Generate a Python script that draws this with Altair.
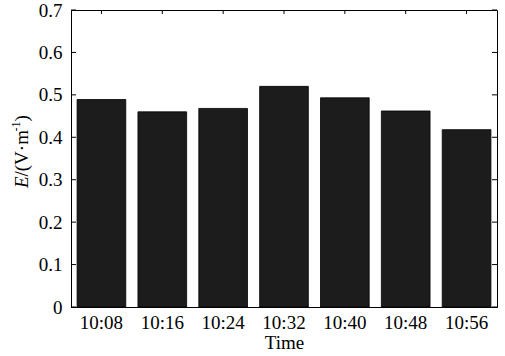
import altair as alt
import pandas as pd

times = ["10:08", "10:16", "10:24", "10:32", "10:40", "10:48", "10:56"]
values = [0.489, 0.460, 0.468, 0.520, 0.493, 0.462, 0.418]
y_ticks = [0, 0.1, 0.2, 0.3, 0.4, 0.5, 0.6, 0.7]

W, H = 426, 297
FONT = "Liberation Serif"
FS = 19
TL = 5

df = pd.DataFrame({"time": times, "E": values})
tick_df = pd.DataFrame({"v": y_ticks})
cat_df = pd.DataFrame({"time": times})

xscale = alt.Scale(domain=times, paddingInner=0.2, paddingOuter=0.1)
yscale = alt.Scale(domain=[0, 0.7], nice=False, zero=True)

bars = alt.Chart(df).mark_bar(color="#1c1c1c", stroke="#000000", strokeWidth=0.8).encode(
    x=alt.X("time:N", scale=xscale, sort=times,
            axis=alt.Axis(title="Time", labelAngle=0, labelPadding=6, titlePadding=1)),
    y=alt.Y("E:Q", scale=yscale,
            axis=alt.Axis(title=None, values=y_ticks, labelPadding=9, grid=False,
                          format="~g")),
)

left_ticks = alt.Chart(tick_df).mark_rule(color="black", strokeWidth=1).encode(
    y=alt.Y("v:Q", scale=yscale), x=alt.value(0), x2=alt.value(TL))
right_ticks = alt.Chart(tick_df).mark_rule(color="black", strokeWidth=1).encode(
    y=alt.Y("v:Q", scale=yscale), x=alt.value(W - TL), x2=alt.value(W))
top_ticks = alt.Chart(cat_df).mark_rule(color="black", strokeWidth=1).encode(
    x=alt.X("time:N", scale=xscale, sort=times), y=alt.value(0), y2=alt.value(TL - 1))

# y-axis title: italic E followed by /(V·m^-1)
tx = -43
t_e = alt.Chart(cat_df.head(1)).mark_text(
    text="E", font=FONT, fontSize=FS, fontStyle="italic", angle=270,
    align="left", baseline="alphabetic", color="black").encode(
    x=alt.value(tx), y=alt.value(178))
t_main = alt.Chart(cat_df.head(1)).mark_text(
    text="/(V·m", font=FONT, fontSize=FS, angle=270,
    align="left", baseline="alphabetic", color="black").encode(
    x=alt.value(tx), y=alt.value(166.5))
t_sup = alt.Chart(cat_df.head(1)).mark_text(
    text="-1", font=FONT, fontSize=12, angle=270,
    align="left", baseline="alphabetic", color="black").encode(
    x=alt.value(tx - 8), y=alt.value(121.5))
t_close = alt.Chart(cat_df.head(1)).mark_text(
    text=")", font=FONT, fontSize=FS, angle=270,
    align="left", baseline="alphabetic", color="black").encode(
    x=alt.value(tx), y=alt.value(111.5))

chart = alt.layer(bars, left_ticks, right_ticks, top_ticks, t_e, t_main, t_sup, t_close).properties(
    width=W, height=H,
    autosize=alt.AutoSizeParams(type="none"),
    padding={"left": 71, "top": 10, "right": 8, "bottom": 49},
    background="white",
).configure_view(stroke="black", strokeWidth=1).configure_axis(
    labelFont=FONT, labelFontSize=FS, labelColor="black",
    titleFont=FONT, titleFontSize=FS, titleFontWeight="normal", titleColor="black",
    ticks=False, tickSize=0, domainColor="black", domainWidth=1, grid=False,
)

chart.save("out.html", embed_options={"renderer": "svg", "actions": False})
